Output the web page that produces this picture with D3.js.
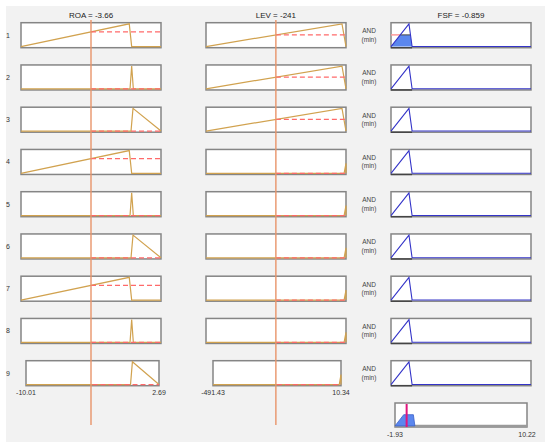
<!DOCTYPE html>
<html><head><meta charset="utf-8">
<script src="https://cdn.jsdelivr.net/npm/d3@7"></script>
<style>html,body{margin:0;padding:0;background:#fff}svg{display:block}</style>
</head><body><svg id="c" width="550" height="448"></svg>
<script>
// ---- data ----
const inputNames = ["ROA", "LEV"];
const inputValues = [-3.66, -241];
const inputRanges = [[-10.01, 2.69], [-491.43, 10.34]];
const inputTickLabels = [["-10.01", "2.69"], ["-491.43", "10.34"]];
const outputName = "FSF";
const outputValue = -0.859;
const outputRange = [-1.93, 10.22];
const outputTickLabels = ["-1.93", "10.22"];
// membership functions (triangular a,b,c)
const roaLow = [-10.01, -0.19, 0.03];
const roaMid = [-0.12, 0.03, 0.18];
const roaHigh = [-0.03, 0.15, 2.69];
const levWide = [-491.43, -4, 10.34];
const levEdge = [3.5, 19, 35];
const fsfOut = [-1.93, -0.37, -0.1];
const ruleROA = ["low", "mid", "high", "low", "mid", "high", "low", "mid", "high"];
const ruleLEV = ["wide", "wide", "wide", "edge", "edge", "edge", "edge", "edge", "edge"];
const ruleLabels = ["1", "2", "3", "4", "5", "6", "7", "8", "9"];
const andLabel = ["AND", "(min)"];

const roaMF = {low: roaLow, mid: roaMid, high: roaHigh};
const levMF = {wide: levWide, edge: levEdge};

// ---- helpers ----
function tri(p, x) {
  const [a, b, c] = p;
  if (x <= a || x >= c) return (x === b) ? 1 : 0;
  if (x <= b) return b === a ? 1 : (x - a) / (b - a);
  return c === b ? 1 : (c - x) / (c - b);
}
function mfPoints(p, dom) {
  const xs = [dom[0], ...p.filter(v => v > dom[0] && v < dom[1]), dom[1]].sort((a, b) => a - b);
  const pts = [[dom[0], 0]];
  xs.forEach(x => pts.push([x, tri(p, x)]));
  pts.push([dom[1], 0]);
  return pts;
}

const svg = d3.select("#c");
svg.append("rect").attr("x", 6).attr("y", 6).attr("width", 539).attr("height", 436).attr("fill", "#f2f2f2");

const font = "'Liberation Sans', Arial, sans-serif";
const rowTop = i => 22.7 + i * 42.25;
const rowH = 25;
const colX = [[21, 161], [206, 346], [391, 531]];
const lastRowX = [[26, 159], [213, 341], [391, 531]];
const gold = "#d1a24f", redDash = "#ff6a6a", blue = "#3434c8", fillBlue = "#5b87ee";

function yScaleFor(top, h) {
  return d3.scaleLinear().domain([-0.05, 1.05]).range([top + h, top]);
}

const firing = ruleROA.map((r, i) => Math.min(tri(roaMF[r], inputValues[0]), tri(levMF[ruleLEV[i]], inputValues[1])));

ruleLabels.forEach((lab, i) => {
  const top = rowTop(i);
  const y = yScaleFor(top, rowH);
  svg.append("text").attr("x", 8).attr("y", top + rowH / 2 + 2.5).attr("text-anchor", "middle")
    .attr("font-family", font).attr("font-size", 7).attr("fill", "#333").text(lab);

  // inputs
  [0, 1].forEach(k => {
    const xr = i === 8 ? lastRowX[k] : colX[k];
    const x = d3.scaleLinear().domain(inputRanges[k]).range(xr);
    const g = svg.append("g");
    g.append("rect").attr("x", xr[0]).attr("y", top).attr("width", xr[1] - xr[0]).attr("height", rowH)
      .attr("fill", "#fff").attr("stroke", "#858585").attr("stroke-width", 1.5);
    const p = k === 0 ? roaMF[ruleROA[i]] : levMF[ruleLEV[i]];
    const mu = tri(p, inputValues[k]);
    const line = d3.line().x(d => x(d[0])).y(d => y(d[1]));
    g.append("path").attr("d", line(mfPoints(p, inputRanges[k]))).attr("fill", "none")
      .attr("stroke", gold).attr("stroke-width", 1.2);
    g.append("line").attr("x1", x(inputValues[k])).attr("x2", xr[1]).attr("y1", y(mu)).attr("y2", y(mu))
      .attr("stroke", redDash).attr("stroke-width", 1.2).attr("stroke-dasharray", "5,3");
    if (i === 8) {
      inputTickLabels[k].forEach((t, j) => {
        svg.append("text").attr("x", xr[j]).attr("y", top + rowH + 9.5).attr("text-anchor", "middle")
          .attr("font-family", font).attr("font-size", 7).attr("fill", "#333").text(t);
      });
    }
  });

  // AND label
  andLabel.forEach((t, j) => {
    svg.append("text").attr("x", 369).attr("y", top + 10.5 + j * 8.5).attr("text-anchor", "middle")
      .attr("font-family", font).attr("font-size", 6.5).attr("fill", "#444").text(t);
  });

  // output
  const xr = colX[2];
  const x = d3.scaleLinear().domain(outputRange).range(xr);
  svg.append("rect").attr("x", xr[0]).attr("y", top).attr("width", xr[1] - xr[0]).attr("height", rowH)
    .attr("fill", "#fff").attr("stroke", "#858585").attr("stroke-width", 1.5);
  svg.append("line").attr("x1", xr[0]).attr("x2", x(fsfOut[2])).attr("y1", top + rowH).attr("y2", top + rowH)
    .attr("stroke", "#444").attr("stroke-width", 1.5);
  const f = firing[i];
  const [a, b, c] = fsfOut;
  if (f > 0) {
    const xl = a + f * (b - a), xrr = c - f * (c - b);
    const poly = [[a, 0], [xl, f], [xrr, f], [c, 0]];
    svg.append("path").attr("d", d3.line().x(d => x(d[0])).y(d => y(d[1]))(poly) + "Z")
      .attr("fill", fillBlue).attr("stroke", "none");
    svg.append("line").attr("x1", xr[0]).attr("x2", x(xl)).attr("y1", y(f)).attr("y2", y(f))
      .attr("stroke", "#ff9a9a").attr("stroke-width", 1.5);
    svg.append("line").attr("x1", x(xl)).attr("x2", x(xrr)).attr("y1", y(f)).attr("y2", y(f))
      .attr("stroke", "#444").attr("stroke-width", 1);
  }
  svg.append("path").attr("d", d3.line().x(d => x(d[0])).y(d => y(d[1]))(mfPoints(fsfOut, outputRange)))
    .attr("fill", "none").attr("stroke", blue).attr("stroke-width", 1.1);
});

// vertical input lines
[0, 1].forEach(k => {
  const x = d3.scaleLinear().domain(inputRanges[k]).range(colX[k]);
  svg.append("line").attr("x1", x(inputValues[k])).attr("x2", x(inputValues[k])).attr("y1", 20).attr("y2", 425)
    .attr("stroke", "#e8946a").attr("stroke-width", 1.4);
  svg.append("text").attr("x", x(inputValues[k])).attr("y", 18).attr("text-anchor", "middle")
    .attr("font-family", font).attr("font-size", 8).attr("fill", "#222")
    .text(inputNames[k] + " = " + inputValues[k]);
});
{
  const x = d3.scaleLinear().domain(outputRange).range(colX[2]);
  svg.append("text").attr("x", 461).attr("y", 18).attr("text-anchor", "middle")
    .attr("font-family", font).attr("font-size", 8).attr("fill", "#222")
    .text(outputName + " = " + outputValue);
}

// aggregate
{
  const ax = [395, 527], top = 403, h = 24;
  const x = d3.scaleLinear().domain(outputRange).range(ax);
  const y = yScaleFor(top, h);
  svg.append("rect").attr("x", ax[0]).attr("y", top).attr("width", ax[1] - ax[0]).attr("height", h)
    .attr("fill", "#fff").attr("stroke", "#858585").attr("stroke-width", 1.5);
  svg.append("line").attr("x1", ax[0]).attr("x2", ax[1]).attr("y1", top + h - 1).attr("y2", top + h - 1)
    .attr("stroke", "#9a9a9a").attr("stroke-width", 2.5);
  const f = d3.max(firing);
  const [a, b, c] = fsfOut;
  const xl = a + f * (b - a), xrr = c - f * (c - b);
  const poly = [[a, 0], [xl, f], [xrr, f], [c, 0]];
  svg.append("path").attr("d", d3.line().x(d => x(d[0])).y(d => y(d[1]))(poly) + "Z")
    .attr("fill", fillBlue).attr("stroke", "#3a5fc8").attr("stroke-width", 0.8);
  svg.append("line").attr("x1", x(outputValue)).attr("x2", x(outputValue)).attr("y1", top + 1).attr("y2", top + h)
    .attr("stroke", "#e0157e").attr("stroke-width", 2);
  outputTickLabels.forEach((t, j) => {
    svg.append("text").attr("x", ax[j]).attr("y", top + h + 9.5).attr("text-anchor", "middle")
      .attr("font-family", font).attr("font-size", 7).attr("fill", "#333").text(t);
  });
}
</script></body></html>
